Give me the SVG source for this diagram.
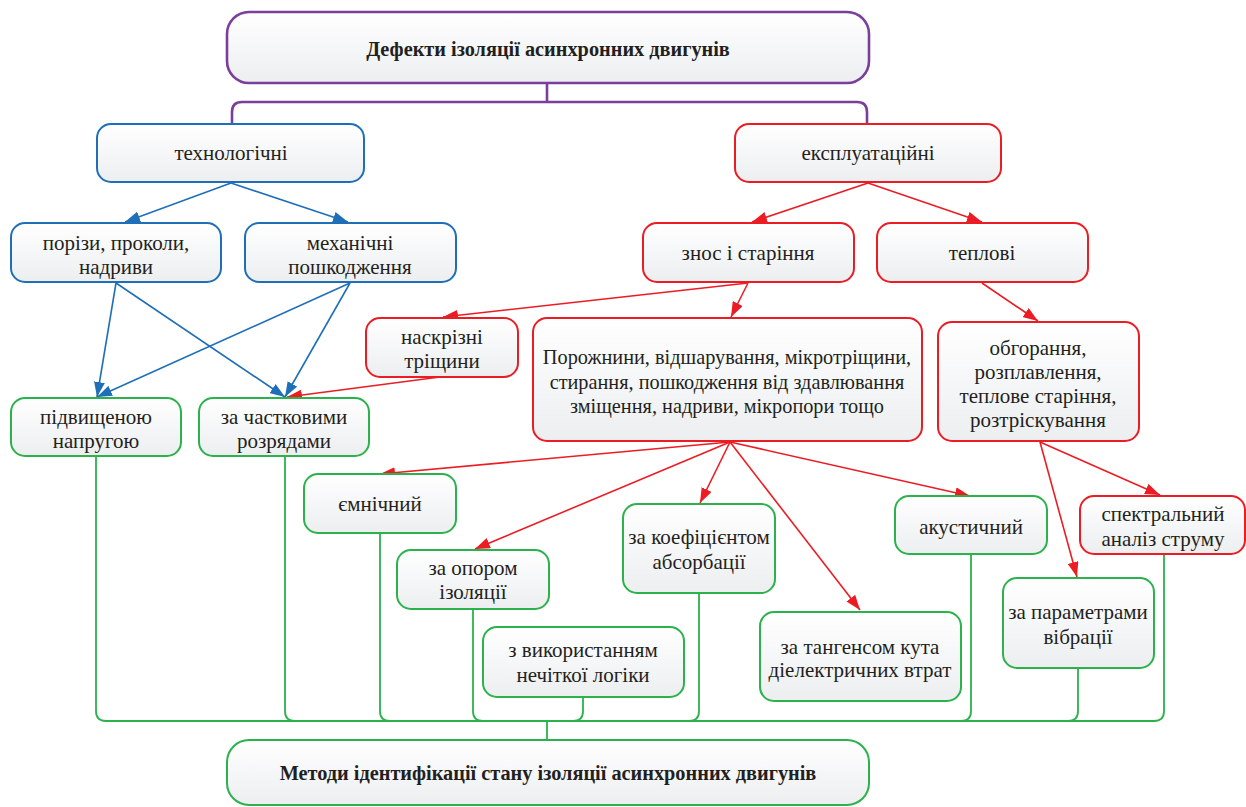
<svg xmlns="http://www.w3.org/2000/svg" width="1246" height="807" viewBox="0 0 1246 807" font-family="'Liberation Serif', serif" font-size="21">
  <defs>
    <linearGradient id="fillGrad" x1="0" y1="0" x2="0" y2="1">
      <stop offset="0" stop-color="#ffffff"/>
      <stop offset="1" stop-color="#eceef0"/>
    </linearGradient>
    <marker id="arrowBlue" viewBox="0 0 15 11" refX="15" refY="5.5" markerWidth="15" markerHeight="11" markerUnits="userSpaceOnUse" orient="auto">
      <path d="M0,0 L15,5.5 L0,11 z" fill="#1f6fb8"/>
    </marker>
    <marker id="arrowRed" viewBox="0 0 15 11" refX="15" refY="5.5" markerWidth="15" markerHeight="11" markerUnits="userSpaceOnUse" orient="auto">
      <path d="M0,0 L15,5.5 L0,11 z" fill="#ec1c24"/>
    </marker>
    <style>
      .box { fill: url(#fillGrad); stroke-width: 2; }
      .purple { stroke: #7a3e9d; stroke-width: 2.6; }
      .blue { stroke: #1f6fb8; }
      .red { stroke: #ec1c24; }
      .green { stroke: #2bb24c; }
      text { fill: #231f20; text-anchor: middle; }
      .ln { fill: none; stroke-width: 1.6; }
      .lnBlue { stroke: #1f6fb8; marker-end: url(#arrowBlue); }
      .lnRed { stroke: #ec1c24; marker-end: url(#arrowRed); }
      .lnGreen { stroke: #2bb24c; stroke-width: 1.8; fill: none; }
      .lnPurple { stroke: #7a3e9d; stroke-width: 2.6; fill: none; }
    </style>
  </defs>

  <rect width="1246" height="807" fill="#ffffff"/>

  <!-- connectors -->
  <g id="connectors">
    <!-- tree from the root -->
    <path class="lnPurple" d="M547,83 V102 M232,124 V112 Q232,102 242,102 H857 Q867,102 867,112 V124"/>

    <!-- technological branch -->
    <line class="ln lnBlue" x1="231" y1="183" x2="125" y2="222"/>
    <line class="ln lnBlue" x1="231" y1="183" x2="348" y2="222"/>
    <line class="ln lnBlue" x1="116" y1="283" x2="97" y2="397"/>
    <line class="ln lnBlue" x1="116" y1="283" x2="285" y2="397"/>
    <line class="ln lnBlue" x1="350" y1="283" x2="97" y2="397"/>
    <line class="ln lnBlue" x1="350" y1="283" x2="285" y2="397"/>

    <!-- operational branch -->
    <line class="ln lnRed" x1="440" y1="377" x2="287" y2="397"/>
    <line class="ln lnRed" x1="868" y1="183" x2="752" y2="222"/>
    <line class="ln lnRed" x1="868" y1="183" x2="982" y2="222"/>
    <line class="ln lnRed" x1="748" y1="283" x2="443" y2="317"/>
    <line class="ln lnRed" x1="748" y1="283" x2="731" y2="317"/>
    <line class="ln lnRed" x1="982" y1="283" x2="1038" y2="321"/>
    <line class="ln lnRed" x1="730" y1="442" x2="380" y2="474"/>
    <line class="ln lnRed" x1="730" y1="442" x2="475" y2="549"/>
    <line class="ln lnRed" x1="730" y1="442" x2="700" y2="503"/>
    <line class="ln lnRed" x1="730" y1="442" x2="860" y2="610"/>
    <line class="ln lnRed" x1="730" y1="442" x2="970" y2="496"/>
    <line class="ln lnRed" x1="1040" y1="442" x2="1160" y2="495"/>
    <line class="ln lnRed" x1="1040" y1="442" x2="1077" y2="577"/>

    <!-- collecting bus to the methods node -->
    <path class="lnGreen" d="M106,721 H1154 M547,721 V740"/>
    <path class="lnGreen" d="M96,456 V711 Q96,721 106,721"/>
    <path class="lnGreen" d="M285,456 V711 Q285,721 295,721"/>
    <path class="lnGreen" d="M380,533 V711 Q380,721 390,721"/>
    <path class="lnGreen" d="M473,609 V711 Q473,721 483,721"/>
    <path class="lnGreen" d="M583,697 V711 Q583,721 573,721"/>
    <path class="lnGreen" d="M699,593 V711 Q699,721 689,721"/>
    <path class="lnGreen" d="M971,554 V711 Q971,721 961,721"/>
    <path class="lnGreen" d="M1078,668 V711 Q1078,721 1068,721"/>
    <path class="lnGreen" d="M1164,554 V711 Q1164,721 1154,721"/>
  </g>

  <!-- nodes -->
  <g id="n-root">
    <rect class="box purple" x="227" y="12" width="642" height="71" rx="22"/>
    <text x="548" y="56" font-weight="bold" font-size="20.3">Дефекти ізоляції асинхронних двигунів</text>
  </g>

  <g id="n-tech">
    <rect class="box blue" x="97" y="124" width="267" height="58" rx="14"/>
    <text x="231" y="160">технологічні</text>
  </g>
  <g id="n-oper">
    <rect class="box red" x="735" y="124" width="266" height="58" rx="14"/>
    <text x="868" y="160">експлуатаційні</text>
  </g>

  <g id="n-cuts">
    <rect class="box blue" x="11" y="223" width="210" height="59" rx="14"/>
    <text x="116" y="250">порізи, проколи,</text>
    <text x="116" y="274">надриви</text>
  </g>
  <g id="n-mech">
    <rect class="box blue" x="245" y="223" width="211" height="59" rx="14"/>
    <text x="350" y="250">механічні</text>
    <text x="350" y="274">пошкодження</text>
  </g>
  <g id="n-wear">
    <rect class="box red" x="643" y="223" width="211" height="59" rx="14"/>
    <text x="748" y="260">знос і старіння</text>
  </g>
  <g id="n-thermal">
    <rect class="box red" x="877" y="223" width="211" height="59" rx="14"/>
    <text x="982" y="260">теплові</text>
  </g>

  <g id="n-cracks">
    <rect class="box red" x="366" y="318" width="152" height="59" rx="14"/>
    <text x="442" y="344">наскрізні</text>
    <text x="442" y="368">тріщини</text>
  </g>
  <g id="n-voids" font-size="20.3">
    <rect class="box red" x="533" y="318" width="389" height="123" rx="14"/>
    <text x="727" y="364">Порожнини, відшарування, мікротріщини,</text>
    <text x="727" y="389">стирання, пошкодження від здавлювання</text>
    <text x="727" y="413">зміщення, надриви, мікропори тощо</text>
  </g>
  <g id="n-burn">
    <rect class="box red" x="938" y="322" width="201" height="119" rx="14"/>
    <text x="1038" y="355">обгорання,</text>
    <text x="1038" y="379">розплавлення,</text>
    <text x="1038" y="403">теплове старіння,</text>
    <text x="1038" y="427">розтріскування</text>
  </g>

  <g id="n-overvoltage">
    <rect class="box green" x="11" y="398" width="170" height="58" rx="14"/>
    <text x="96" y="424">підвищеною</text>
    <text x="96" y="448">напругою</text>
  </g>
  <g id="n-partial">
    <rect class="box green" x="199" y="398" width="170" height="58" rx="14"/>
    <text x="284" y="424">за частковими</text>
    <text x="284" y="448">розрядами</text>
  </g>
  <g id="n-capacitive">
    <rect class="box green" x="304" y="474" width="152" height="59" rx="14"/>
    <text x="380" y="511">ємнічний</text>
  </g>
  <g id="n-resistance">
    <rect class="box green" x="397" y="550" width="152" height="59" rx="14"/>
    <text x="473" y="575">за опором</text>
    <text x="473" y="599">ізоляції</text>
  </g>
  <g id="n-fuzzy">
    <rect class="box green" x="483" y="627" width="201" height="70" rx="14"/>
    <text x="583" y="657">з використанням</text>
    <text x="583" y="682">нечіткої логіки</text>
  </g>
  <g id="n-absorption">
    <rect class="box green" x="623" y="504" width="152" height="89" rx="14"/>
    <text x="699" y="544">за коефіцієнтом</text>
    <text x="699" y="569">абсорбації</text>
  </g>
  <g id="n-tangent">
    <rect class="box green" x="760" y="612" width="201" height="89" rx="14"/>
    <text x="860" y="654">за тангенсом кута</text>
    <text x="860" y="677">діелектричних втрат</text>
  </g>
  <g id="n-acoustic">
    <rect class="box green" x="895" y="496" width="152" height="58" rx="14"/>
    <text x="971" y="534">акустичний</text>
  </g>
  <g id="n-spectral">
    <rect class="box red" x="1080" y="496" width="165" height="58" rx="14"/>
    <text x="1163" y="521">спектральний</text>
    <text x="1163" y="546">аналіз струму</text>
  </g>
  <g id="n-vibration">
    <rect class="box green" x="1003" y="578" width="151" height="90" rx="14"/>
    <text x="1078" y="619">за параметрами</text>
    <text x="1078" y="644">вібрації</text>
  </g>

  <g id="n-methods">
    <rect class="box green" x="227" y="740" width="642" height="65" rx="22"/>
    <text x="548" y="780" font-weight="bold" font-size="20.3">Методи ідентифікації стану ізоляції асинхронних двигунів</text>
  </g>
</svg>
